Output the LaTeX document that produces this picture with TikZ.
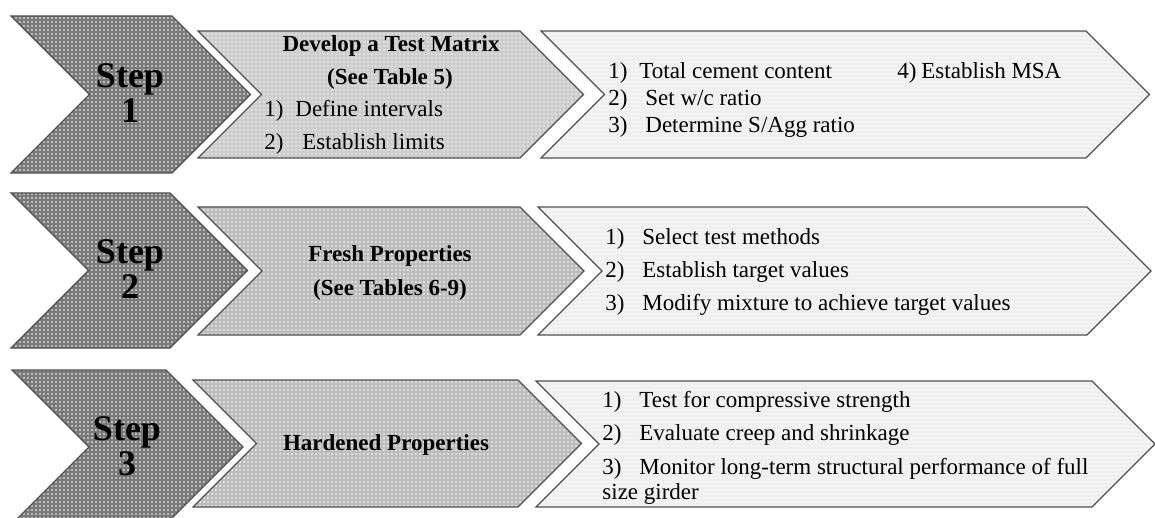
\documentclass[tikz,border=0pt]{standalone}
\usepackage{fontspec}
\setmainfont{Liberation Serif}
\usetikzlibrary{patterns.meta}
\definecolor{stepgray}{HTML}{7A7A7A}
\definecolor{midgrayA}{HTML}{CDCDCD}
\definecolor{midgrayB}{HTML}{BDBDBD}
\definecolor{lightgray}{HTML}{EFEFEF}
\definecolor{edgegray}{HTML}{505050}
\newcommand\mychev[6]{%
  \pgfmathsetmacro\hh{(#6-#5)/2}%
  \pgfmathsetmacro\yc{(#5+#6)/2}%
  \pgfmathsetmacro\xa{#4+\hh}%
  \pgfmathsetmacro\xb{#3+\hh}%
  \draw[chevline, preaction={fill=#1}, pattern={Dots[distance=2pt,radius=.42pt]}, pattern color=#2]
    (#3,#5) -- (#4,#5) -- (\xa,\yc) -- (#4,#6) -- (#3,#6) -- (\xb,\yc) -- cycle;}
\begin{document}
\begin{tikzpicture}[x=0.5pt,y=-0.5pt,
  chevline/.style={draw=edgegray, line width=0.6pt, line join=miter},
  steptxt/.style={font=\fontsize{18}{20}\selectfont\bfseries, anchor=base, inner sep=0pt},
  headtxt/.style={font=\fontsize{11.5}{13}\selectfont\bfseries, anchor=base, inner sep=0pt},
  itemtxt/.style={font=\fontsize{11.5}{13}\selectfont, anchor=base west, inner sep=0pt}]
\useasboundingbox (0,0) rectangle (1155,518);
\begin{scope}
\clip (0,0) rectangle (1155,518);
% row 1
\mychev{stepgray}{white}{11}{172}{16}{173}
\mychev{midgrayA}{white!70!midgrayA}{198}{520}{31}{158}
\mychev{lightgray}{white}{541}{1086}{31}{158}
% row 2
\mychev{stepgray}{white}{11}{170}{193}{348}
\mychev{midgrayB}{white}{198}{520}{207}{335}
\mychev{lightgray}{white}{538}{1087}{207}{335}
% row 3
\mychev{stepgray}{white}{12}{166}{370}{524}
\mychev{midgrayB}{white}{193}{518}{380}{507}
\mychev{lightgray}{white}{536}{1092}{381}{507}
\end{scope}
% row 1 texts
\node[steptxt] (s1a) at (130,88) {Step};
\node[steptxt] (s1b) at (130,123) {1};
\node[headtxt] (m1a) at (391,52) {Develop a Test Matrix};
\node[headtxt] (m1b) at (390,85) {(See Table 5)};
\node[itemtxt] (m1cn) at (264,117) {1)};
\node[itemtxt] (m1c) at (295,117) {Define intervals};
\node[itemtxt] (m1dn) at (264,150) {2)};
\node[itemtxt] (m1d) at (302,150) {Establish limits};
\node[itemtxt] (r1an) at (608,79) {1)};
\node[itemtxt] (r1a) at (639,79) {Total cement content};
\node[itemtxt] (r1bn) at (608,106) {2)};
\node[itemtxt] (r1b) at (645,106) {Set w/c ratio};
\node[itemtxt] (r1cn) at (608,133) {3)};
\node[itemtxt] (r1c) at (645,133) {Determine S/Agg ratio};
\node[itemtxt] (r1dn) at (897,79) {4)};
\node[itemtxt] (r1d) at (921,79) {Establish MSA};
% row 2 texts
\node[steptxt] (s2a) at (130,263.5) {Step};
\node[steptxt] (s2b) at (130,298.5) {2};
\node[headtxt] (m2a) at (390,262) {Fresh Properties};
\node[headtxt] (m2b) at (390,295) {(See Tables 6-9)};
\node[itemtxt] (r2an) at (605,244) {1)};
\node[itemtxt] (r2a) at (642,244) {Select test methods};
\node[itemtxt] (r2bn) at (605,277) {2)};
\node[itemtxt] (r2b) at (642,277) {Establish target values};
\node[itemtxt] (r2cn) at (605,310) {3)};
\node[itemtxt] (r2c) at (642,310) {Modify mixture to achieve target values};
% row 3 texts
\node[steptxt] (s3a) at (127,440) {Step};
\node[steptxt] (s3b) at (127,475) {3};
\node[headtxt] (m3a) at (386,450) {Hardened Properties};
\node[itemtxt] (r3an) at (602,407) {1)};
\node[itemtxt] (r3a) at (639,407) {Test for compressive strength};
\node[itemtxt] (r3bn) at (602,440) {2)};
\node[itemtxt] (r3b) at (639,440) {Evaluate creep and shrinkage};
\node[itemtxt] (r3cn) at (602,474) {3)};
\node[itemtxt] (r3c) at (639,474) {Monitor long-term structural performance of full};
\node[itemtxt] (r3d) at (602,499) {size girder};
\end{tikzpicture}
\end{document}
